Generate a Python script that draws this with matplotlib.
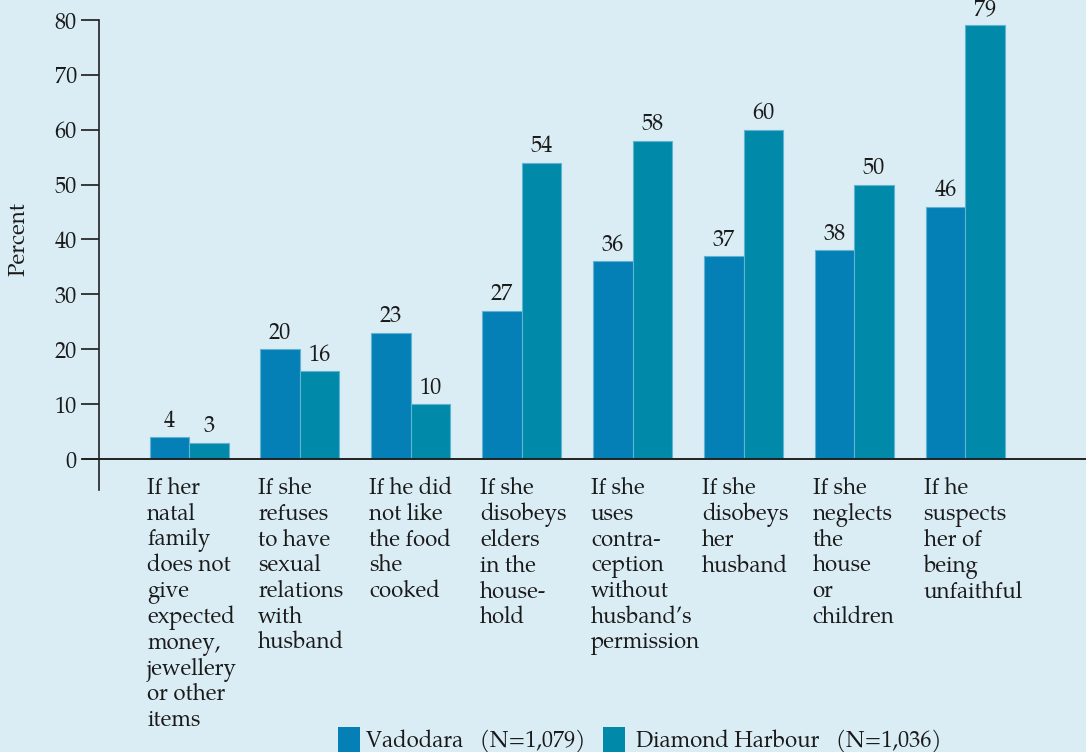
import matplotlib
matplotlib.use("Agg")
import matplotlib.pyplot as plt
from matplotlib.patches import Rectangle
import numpy as np

# ---- data ----
categories = [
    "If her\nnatal\nfamily\ndoes not\ngive\nexpected\nmoney,\njewellery\nor other\nitems",
    "If she\nrefuses\nto have\nsexual\nrelations\nwith\nhusband",
    "If he did\nnot like\nthe food\nshe\ncooked",
    "If she\ndisobeys\nelders\nin the\nhouse-\nhold",
    "If she\nuses\ncontra-\nception\nwithout\nhusband\u2019s\npermission",
    "If she\ndisobeys\nher\nhusband",
    "If she\nneglects\nthe\nhouse\nor\nchildren",
    "If he\nsuspects\nher of\nbeing\nunfaithful",
]
vadodara = [4, 20, 23, 27, 36, 37, 38, 46]
diamond = [3, 16, 10, 54, 58, 60, 50, 79]
series_names = ["Vadodara", "Diamond Harbour"]
series_n = ["1,079", "1,036"]
yticks = [0, 10, 20, 30, 40, 50, 60, 70, 80]

# ---- style ----
bg = "#daecf4"
c_vad = "#0480b6"
c_dia = "#0089a9"
edge = "#5fb3d3"
txt_c = "#1a1a1a"
fs = 16
plt.rcParams["font.family"] = ["TeX Gyre Pagella", "DejaVu Serif"]

W, H = 1086, 752
fig = plt.figure(figsize=(W / 100, H / 100), dpi=100, facecolor=bg)
ax_left, ax_right, y0_px, ytop_px = 99, 1086, 459, 20
ax = fig.add_axes([ax_left / W, (H - y0_px) / H, (ax_right - ax_left) / W, (y0_px - ytop_px) / H])
ax.set_facecolor(bg)

first_c, unit = 189.0, 110.9
ax.set_xlim((ax_left - first_c) / unit, (ax_right - first_c) / unit)
ax.set_ylim(0, 80)
ppu = (y0_px - ytop_px) / 80.0

x = np.arange(len(categories))
w = 39.5 / unit
b1 = ax.bar(x - w / 2, vadodara, w, color=c_vad, edgecolor=edge, linewidth=0.8, zorder=2)
b2 = ax.bar(x + w / 2, diamond, w, color=c_dia, edgecolor=edge, linewidth=0.8, zorder=2)

for bars, vals in ((b1, vadodara), (b2, diamond)):
    for rect, v in zip(bars, vals):
        ax.annotate(f"{v}", (rect.get_x() + rect.get_width() / 2, v),
                    xytext=(0, 7.5), textcoords="offset points",
                    ha="center", va="baseline", fontsize=fs, color=txt_c)

for s in ax.spines.values():
    s.set_visible(False)
ax.set_xticks([])
ax.set_yticks(yticks)
ax.set_yticklabels([str(t) for t in yticks])
ax.tick_params(axis="y", length=13, width=1.2, direction="out", pad=3,
               labelsize=fs, colors=txt_c)

axw = ax_right - ax_left
tr = ax.get_yaxis_transform()
ax.plot([0, 0], [80, -(490 - y0_px) / ppu], transform=tr, color="#222222",
        lw=1.2, clip_on=False, zorder=3)
ax.plot([-16 / axw, 1], [0, 0], transform=tr, color="#222222",
        lw=1.4, clip_on=False, zorder=3)

ax.set_ylabel("Percent", fontsize=fs, color=txt_c)
ax.yaxis.set_label_coords((31 - ax_left) / axw, 0.5)

label_top = -(477 - y0_px) / ppu
for xi, lab in zip(x, categories):
    ax.text(xi - w - 0.02, label_top, lab,
            ha="left", va="top", fontsize=fs, linespacing=1.10, color=txt_c)

# legend drawn at bottom
leg = [(338, 366, c_vad, f"{series_names[0]}   (N={series_n[0]})"),
       (603, 636, c_dia, f"{series_names[1]}   (N={series_n[1]})")]
for px, tx, col, txt in leg:
    fig.add_artist(Rectangle((px / W, 0), 22 / W, 25 / H, transform=fig.transFigure,
                             facecolor=col, edgecolor="none"))
    fig.text(tx / W, (H - 747) / H, txt, fontsize=fs, va="baseline", ha="left",
             color=txt_c)

fig.savefig("out.png", dpi=100, facecolor=bg)
